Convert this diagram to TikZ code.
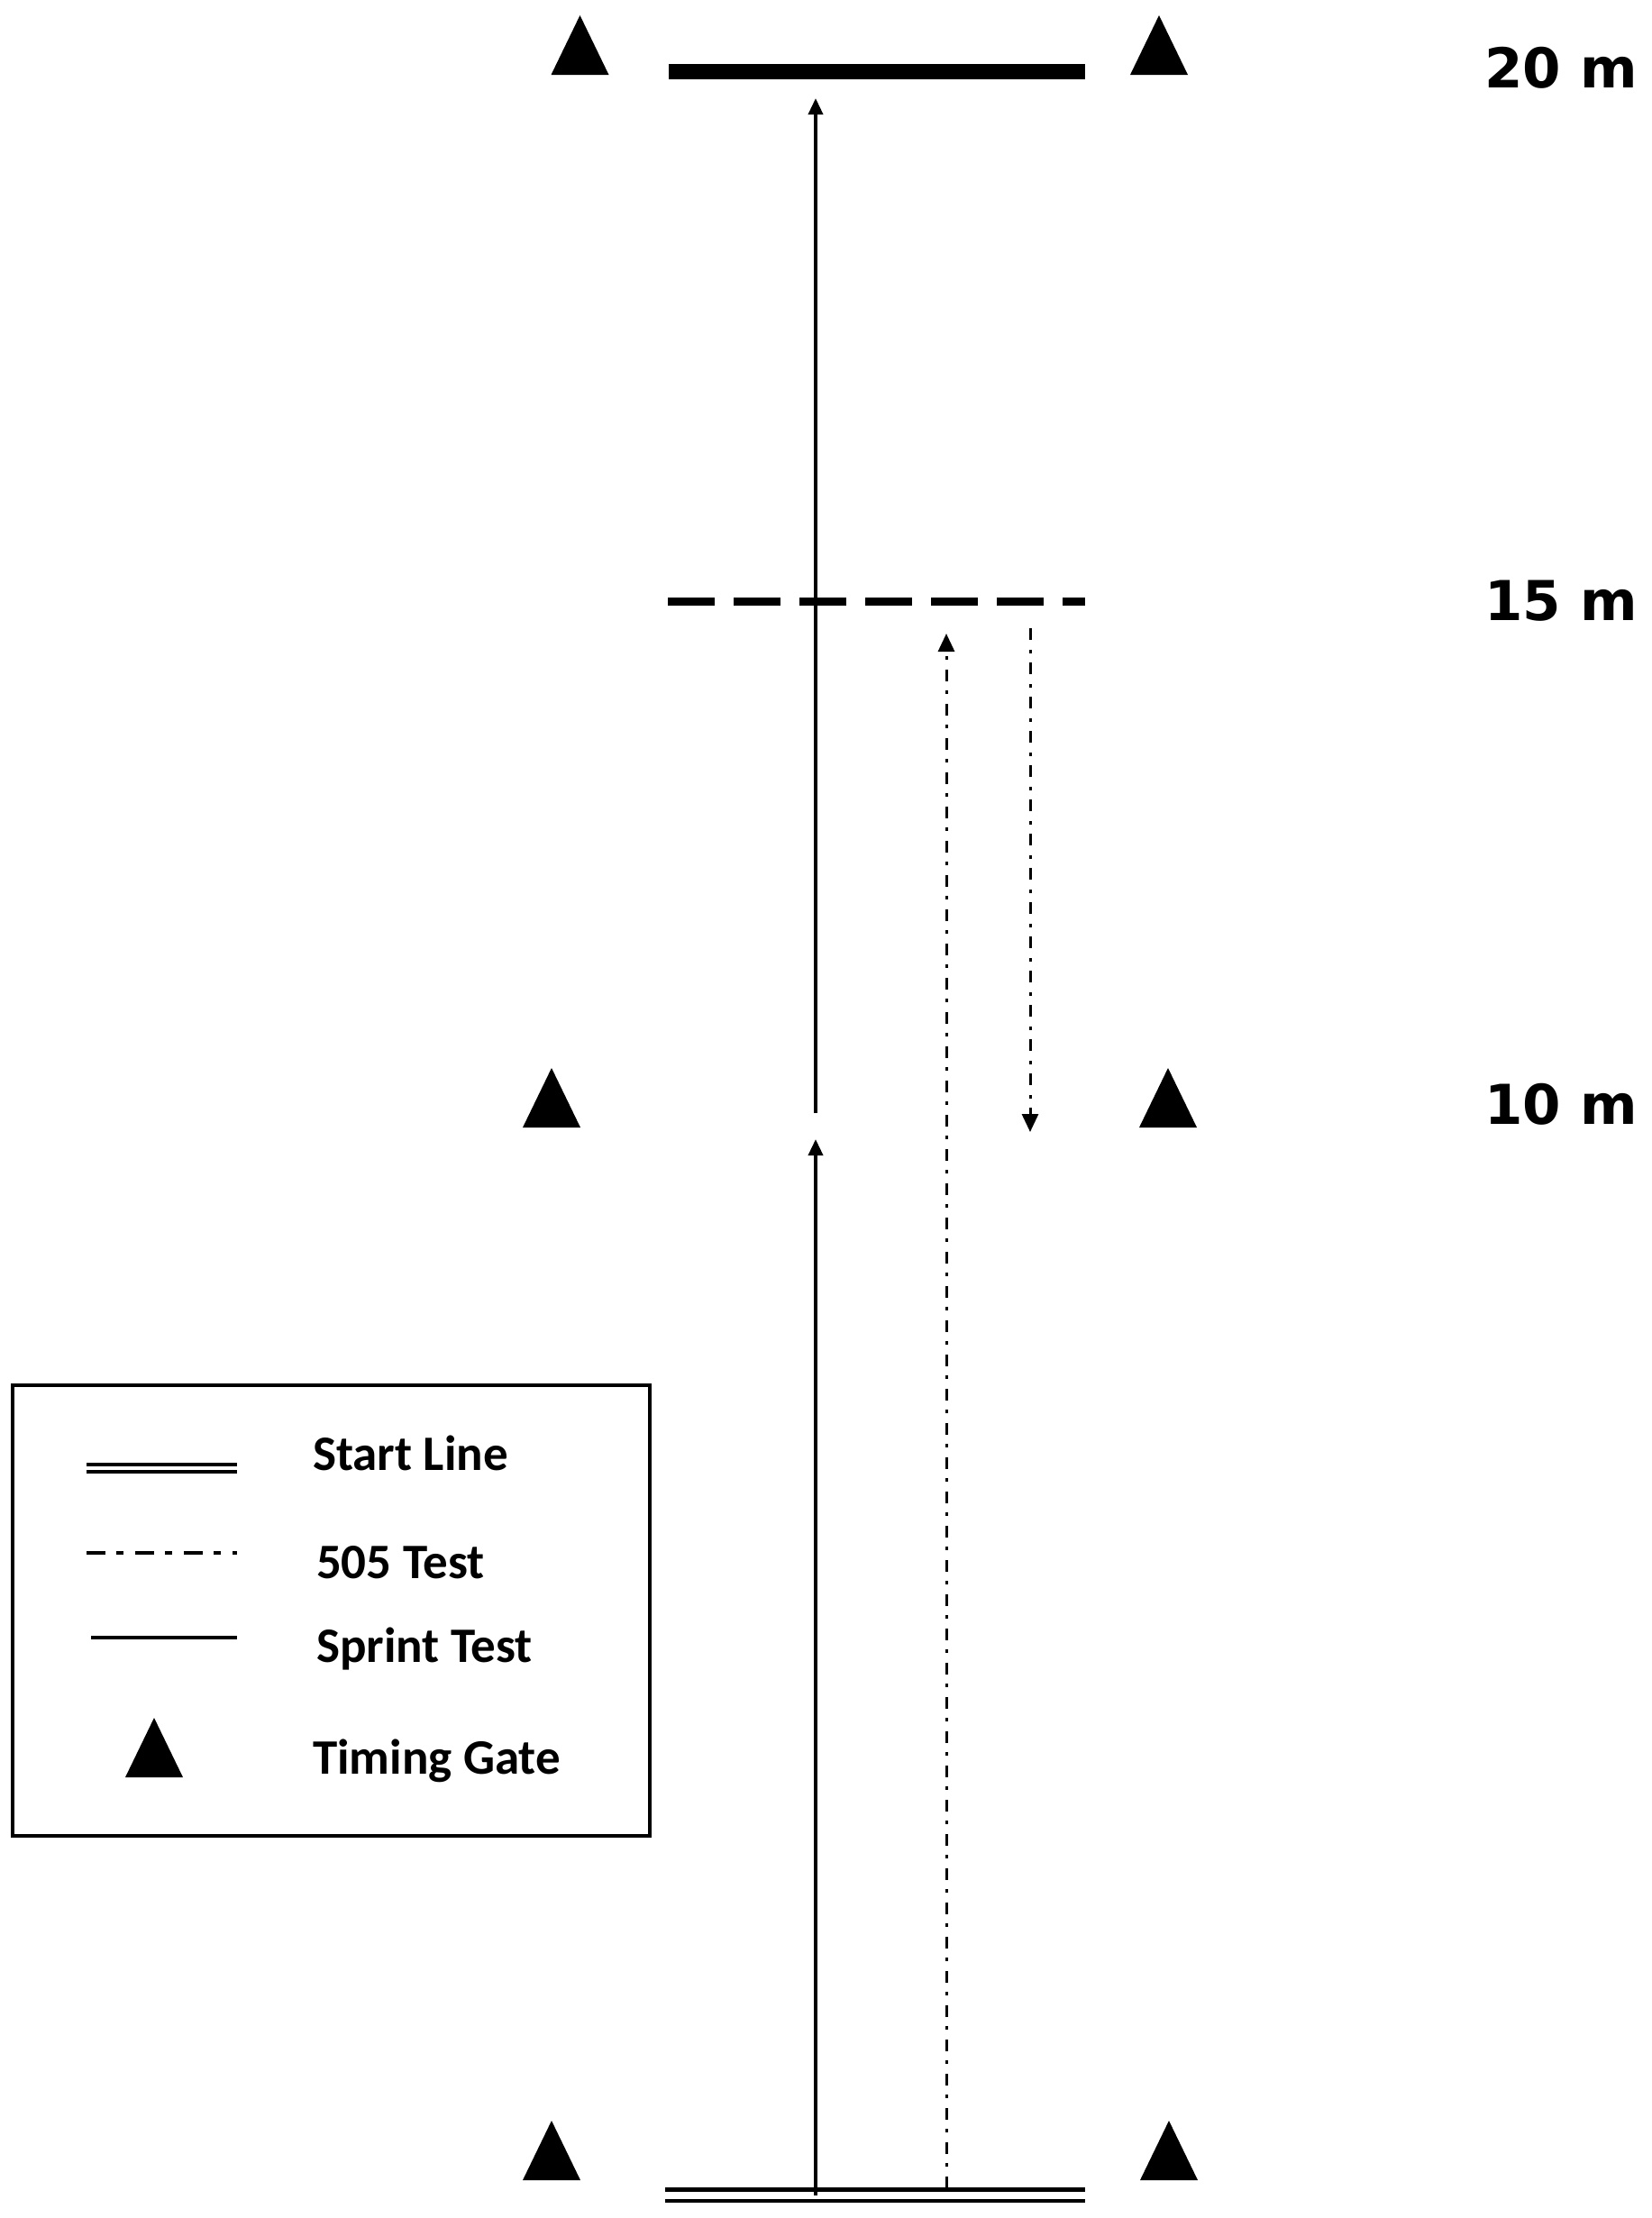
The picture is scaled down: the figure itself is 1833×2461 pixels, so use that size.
\documentclass[tikz,border=0pt]{standalone}
\usepackage{fontspec}
\newfontfamily\labfont{DejaVu Sans}
\newfontfamily\legfont{Carlito}
\usetikzlibrary{arrows.meta}
\begin{document}
\begin{tikzpicture}[x=1pt,y=-1pt,
  sprint/.style={line width=3.5pt,-{Triangle[length=18pt,width=16pt]}},
  fivezerofive/.style={line width=3pt,dash pattern=on 13pt off 11pt on 4pt off 10pt,-{Triangle[length=20pt,width=18pt]}},
  distlab/.style={anchor=base west,inner sep=0pt,outer sep=0pt,font=\labfont\bfseries\fontsize{61}{68}\selectfont},
  leglab/.style={anchor=base west,inner sep=0pt,outer sep=0pt,font=\legfont\bfseries\fontsize{55}{60}\selectfont},
  pics/gate/.style={code={\fill (-32,0) -- (32,0) -- (0,-66) -- cycle;}}]
\useasboundingbox[fill=white] (0,0) rectangle (1833,2461);

% course lines
\coordinate (finL) at (742,79.5);
\coordinate (finR) at (1204,79.5);
\coordinate (turnL) at (741,667);
\coordinate (turnR) at (1204,667);
\coordinate (startAL) at (738,2429.5);
\coordinate (startAR) at (1204,2429.5);
\coordinate (startBL) at (738,2442);
\coordinate (startBR) at (1204,2442);
\draw[line width=17pt] (finL) -- (finR);
\draw[line width=9pt,dash pattern=on 52pt off 21pt] (turnL) -- (turnR);
\draw[line width=4.5pt] (startAL) -- (startAR);
\draw[line width=4.5pt] (startBL) -- (startBR);

% sprint arrows
\coordinate (spS) at (905,2436);
\coordinate (spM1) at (905,1264);
\coordinate (spM2) at (905,1235);
\coordinate (spE) at (905,109);
\draw[sprint] (spS) -- (spM1);
\draw[sprint] (spM2) -- (spE);

% 505 arrows
\coordinate (fS) at (1050,2428);
\coordinate (fT) at (1050,703);
\coordinate (bS) at (1143,697);
\coordinate (bE) at (1143,1256);
\draw[fivezerofive] (fS) -- (fT);
\draw[fivezerofive] (bS) -- (bE);

% timing gates
\pic at (643.5,83) {gate};
\pic at (1286,83) {gate};
\pic at (612,1251) {gate};
\pic at (1296,1251) {gate};
\pic at (612,2419) {gate};
\pic at (1297,2419) {gate};

% distance labels
\node[distlab] (l20) at (1647,97) {20 m};
\node[distlab] (l15) at (1647,688) {15 m};
\node[distlab] (l10) at (1647,1247) {10 m};

% legend
\draw[line width=3.5pt] (14,1537) rectangle (721,2037);
\draw[line width=4pt] (96,1625) -- (263,1625);
\draw[line width=4pt] (96,1633) -- (263,1633);
\draw[line width=3.5pt,dash pattern=on 21pt off 12pt on 8pt off 13pt] (96,1723) -- (263,1723);
\draw[line width=3.5pt] (101,1817) -- (263,1817);
\pic at (171,1972) {gate};
\node[leglab] (ls) at (347,1631) {Start Line};
\node[leglab] (lf) at (351,1751) {505 Test};
\node[leglab] (lp) at (351,1844) {Sprint Test};
\node[leglab] (lt) at (347,1968) {Timing Gate};
\end{tikzpicture}
\end{document}
